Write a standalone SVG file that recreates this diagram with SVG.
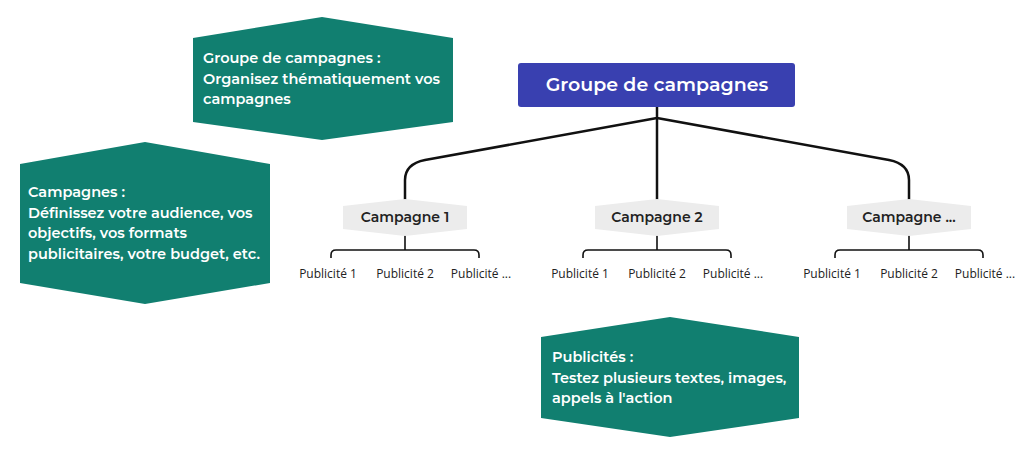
<svg xmlns="http://www.w3.org/2000/svg" width="1024" height="453" viewBox="0 0 1024 453">
<style>
.teal{fill:#117f70}
.tt{font-family:Montserrat,"Open Sans","Liberation Sans",sans-serif;font-weight:600;font-size:14.5px;fill:#fff}
.camp{fill:#ececec}
.ct{font-family:Montserrat,"Open Sans","Liberation Sans",sans-serif;font-weight:600;font-size:14px;fill:#222;text-anchor:middle}
.pt{font-family:"Open Sans","Liberation Sans",sans-serif;font-size:12px;fill:#222;text-anchor:middle}
.ln{fill:none;stroke:#111;stroke-width:2.5}
.sl{fill:none;stroke:#111;stroke-width:1.6}
</style>
<rect width="1024" height="453" fill="#fff"/>
<g id="connectors">
<path class="ln" d="M657 107 V200"/>
<path class="ln" d="M657 118 L425 160 Q405 164 405 180 V200"/>
<path class="ln" d="M657 118 L889 160 Q909 164 909 180 V200"/>
<path class="sl" d="M405 235 V250 M331 258 V255 Q331 250 336 250 H474 Q479 250 479 255 V258"/>
<path class="sl" d="M657 235 V250 M583 258 V255 Q583 250 588 250 H726 Q731 250 731 255 V258"/>
<path class="sl" d="M909 235 V250 M835 258 V255 Q835 250 840 250 H978 Q983 250 983 255 V258"/>
</g>
<g id="title"><rect x="518" y="63" width="277" height="44" rx="3" fill="#3940b0"/><text x="657" y="91" text-anchor="middle" font-family="Montserrat,'Open Sans','Liberation Sans',sans-serif" font-weight="600" font-size="19" fill="#fff">Groupe de campagnes</text></g>
<g id="note-groupe"><polygon class="teal" points="193,38 322,17 453,38 453,122 322,140 193,122"/>
<text class="tt" x="203" y="63">Groupe de campagnes :</text><text class="tt" x="203" y="84">Organisez thématiquement vos</text><text class="tt" x="203" y="104">campagnes</text></g>
<g id="note-campagnes"><polygon class="teal" points="20,164 145,142 270,164 270,283 145,304 20,283"/>
<text class="tt" x="28" y="197">Campagnes :</text><text class="tt" x="28" y="218">Définissez votre audience, vos</text><text class="tt" x="28" y="238">objectifs, vos formats</text><text class="tt" x="28" y="259">publicitaires, votre budget, etc.</text></g>
<g id="note-pub"><polygon class="teal" points="541,337 670,317 799,337 799,418 670,437 541,418"/>
<text class="tt" x="552" y="362">Publicités :</text><text class="tt" x="552" y="383">Testez plusieurs textes, images,</text><text class="tt" x="552" y="403">appels à l'action</text></g>
<g id="c1"><polygon class="camp" points="343,206 405,199 467,206 467,229 405,236 343,229"/><text class="ct" x="405" y="222">Campagne 1</text></g>
<g id="c2"><polygon class="camp" points="595,206 657,199 719,206 719,229 657,236 595,229"/><text class="ct" x="657" y="222">Campagne 2</text></g>
<g id="c3"><polygon class="camp" points="847,206 909,199 971,206 971,229 909,236 847,229"/><text class="ct" x="909" y="222">Campagne ...</text></g>
<g id="pubs">
<text class="pt" x="328" y="278">Publicité 1</text><text class="pt" x="405" y="278">Publicité 2</text><text class="pt" x="481" y="278">Publicité ...</text>
<text class="pt" x="580" y="278">Publicité 1</text><text class="pt" x="657" y="278">Publicité 2</text><text class="pt" x="733" y="278">Publicité ...</text>
<text class="pt" x="832" y="278">Publicité 1</text><text class="pt" x="909" y="278">Publicité 2</text><text class="pt" x="985" y="278">Publicité ...</text>
</g>
</svg>
